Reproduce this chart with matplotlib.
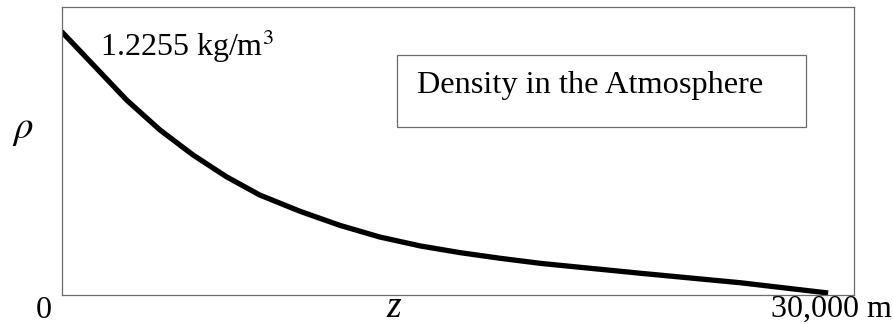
import matplotlib
matplotlib.use("Agg")
import matplotlib.pyplot as plt
from matplotlib.patches import Rectangle

# Data (altitude in m, density in kg/m^3)
altitude_m = [0, 1250, 2550, 3850, 5150, 6450, 7750, 9350, 10900, 12450,
              14050, 15600, 17150, 18750, 22650, 26550, 30000]
density = [1.2255, 1.069, 0.906, 0.767, 0.650, 0.549, 0.464, 0.387, 0.322,
           0.268, 0.226, 0.195, 0.169, 0.145, 0.099, 0.055, 0.007]

x_max_label = "30,000 m"
x_min_label = "0"
x_axis_label = "z"
y_axis_label = r"$\rho$"
peak_label = "1.2255 kg/m$^3$"
box_label = "Density in the Atmosphere"

plt.rcParams['font.family'] = ['Liberation Serif', 'DejaVu Serif']
plt.rcParams['mathtext.fontset'] = 'stix'

W, H = 893, 324
fig = plt.figure(figsize=(W / 100, H / 100), dpi=100)
ax_l, ax_r, ax_t, ax_b = 61.5, 853.7, 6.5, 294.5
ax = fig.add_axes([ax_l / W, 1 - ax_b / H, (ax_r - ax_l) / W, (ax_b - ax_t) / H])

ax.plot(altitude_m, density, color='black', lw=3.8, solid_capstyle='butt',
        solid_joinstyle='round')
ax.set_xlim(0, 31000)
ax.set_ylim(0, 1.342)
ax.set_xticks([])
ax.set_yticks([])
for s in ax.spines.values():
    s.set_color('#6a6a6a')
    s.set_linewidth(0.9)

# Annotation near the top
ax.text(0.0486, 0.828, peak_label, transform=ax.transAxes, fontsize=23,
        ha='left', va='baseline')

# Box with title
ax.add_patch(Rectangle((0.4239, 0.5826), 0.5155, 0.25, transform=ax.transAxes,
                       fill=False, edgecolor='#6a6a6a', lw=0.9))
ax.text(0.4484, 0.698, box_label, transform=ax.transAxes, fontsize=23.3,
        ha='left', va='baseline')

# Axis labels placed as in the reference
fig.text(23 / W, 1 - 129 / H, y_axis_label, fontsize=28, ha='center', va='center')
fig.text(43.5 / W, 1 - 318 / H, x_min_label, fontsize=23, ha='center', va='baseline')
fig.text(394 / W, 1 - 317 / H, x_axis_label, fontsize=27, style='italic',
         ha='center', va='baseline')
fig.text(771 / W, 1 - 317 / H, x_max_label, fontsize=23, ha='left', va='baseline')

fig.savefig("out.png", dpi=100)
